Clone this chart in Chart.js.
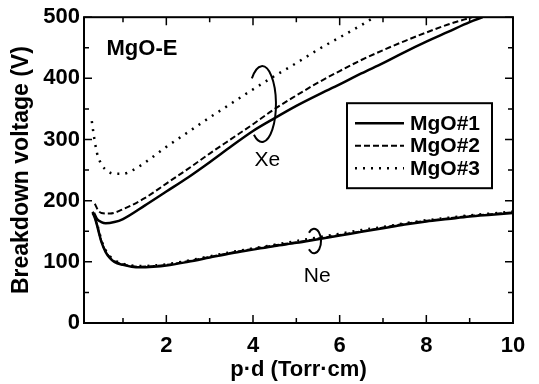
<!DOCTYPE html>
<html>
<head>
<meta charset="utf-8">
<script src="https://cdn.jsdelivr.net/npm/chart.js@4.4.0/dist/chart.umd.min.js"></script>
<style>
  body { margin: 0; background: #fff; }
  canvas { display: block; }
</style>
</head>
<body>
<canvas id="chart" width="539" height="384"></canvas>
<script>
// Xe curves (one per MgO sample)
const xeSolidX = [0.33, 0.4, 0.5, 0.6, 0.8, 1, 1.5, 2, 2.5, 3, 3.5, 4, 4.5, 5, 5.5, 6, 6.5, 7, 7.5, 8, 8.5, 9, 9.3];
const xeSolidY = [180, 170, 165, 163, 165, 170, 192, 215, 238, 263, 289, 314, 335, 355, 373, 390, 408, 425, 443, 460, 476, 492, 500];
const xeDashX = [0.35, 0.42, 0.5, 0.7, 1, 1.5, 2, 2.5, 3, 3.5, 4, 4.5, 5, 5.5, 6, 6.5, 7, 7.5, 8, 8.5, 9.05];
const xeDashY = [195, 185, 180, 179, 186, 204, 228, 252, 277, 301, 325, 350, 372, 393, 412, 430, 446, 461, 475, 488, 500];
const xeDotX = [0.28, 0.33, 0.4, 0.5, 0.65, 0.8, 1, 1.2, 1.5, 2, 2.5, 3, 3.5, 4, 4.5, 5, 5.5, 6, 6.5, 6.8];
const xeDotY = [330, 305, 278, 260, 248, 244, 244, 249, 262, 288, 312, 336, 359, 382, 404, 425, 447, 467, 487, 500];

// Ne curves share one x grid
const neX = [0.3, 0.35, 0.4, 0.45, 0.5, 0.6, 0.7, 0.8, 1, 1.2, 1.4, 1.7, 2, 2.5, 3, 3.5, 4, 4.5, 5, 5.5, 6, 6.5, 7, 7.5, 8, 8.5, 9, 9.5, 10];
const neSolidY = [180, 172, 160, 146, 133, 116, 106, 100, 95, 92, 91, 92, 94, 100, 107, 114, 120, 126, 131, 137, 143, 149, 155, 161, 166, 170, 174, 177, 180];
const neDashY = [181, 173, 161, 147, 134, 117, 107, 101, 96, 93, 92, 93, 95, 101, 108, 115, 121, 127, 132, 138, 144, 150, 156, 162, 167, 171, 175, 178, 181];
const neDotY = [182, 174, 163, 149, 136, 119, 109, 103, 97, 94, 93, 94, 96, 102, 109, 116, 122, 128, 134, 140, 146, 152, 157, 163, 168, 172, 176, 179, 182];

const seriesLabels = ['MgO#1', 'MgO#2', 'MgO#3'];
const xTicks = [2, 4, 6, 8, 10];
const xMinorTicks = [1, 3, 5, 7, 9];
const yTicks = [0, 100, 200, 300, 400, 500];
const yMinorTicks = [50, 150, 250, 350, 450];

const styles = [
    { dash: [], width: 2.5 },
    { dash: [6, 3], width: 2 },
    { dash: [2, 6], width: 2.5 }
];

function pts(xs, ys) {
    return xs.map((x, i) => ({ x: x, y: ys[i] }));
}

function line(label, data, s) {
    return {
        label: label,
        data: data,
        borderColor: '#000',
        borderWidth: styles[s].width,
        borderDash: styles[s].dash,
        pointRadius: 0,
        cubicInterpolationMode: 'monotone',
        fill: false
    };
}

const FONT = 'Liberation Sans, Arial, sans-serif';

// tick marks, frame, notes and legend, all placed via the chart scales
const decor = {
    id: 'decor',
    afterDatasetsDraw(chart) {
        const ctx = chart.ctx;
        const a = chart.chartArea;
        const xs = chart.scales.x, ys = chart.scales.y;
        ctx.save();
        ctx.strokeStyle = '#000';
        ctx.lineWidth = 2;
        ctx.setLineDash([]);
        ctx.strokeRect(a.left, a.top, a.right - a.left, a.bottom - a.top);

        ctx.lineWidth = 1.5;
        function vtick(v, len) {
            const px = xs.getPixelForValue(v);
            ctx.beginPath();
            ctx.moveTo(px, a.bottom); ctx.lineTo(px, a.bottom - len);
            ctx.moveTo(px, a.top); ctx.lineTo(px, a.top + len);
            ctx.stroke();
        }
        function htick(v, len) {
            const py = ys.getPixelForValue(v);
            ctx.beginPath();
            ctx.moveTo(a.left, py); ctx.lineTo(a.left + len, py);
            ctx.moveTo(a.right, py); ctx.lineTo(a.right - len, py);
            ctx.stroke();
        }
        xTicks.forEach(v => vtick(v, 8));
        xMinorTicks.forEach(v => vtick(v, 5));
        yTicks.forEach(v => htick(v, 8));
        yMinorTicks.forEach(v => htick(v, 5));

        // text notes
        ctx.fillStyle = '#000';
        ctx.font = 'bold 22px ' + FONT;
        ctx.textBaseline = 'middle';
        ctx.textAlign = 'left';
        ctx.fillText('MgO-E', xs.getPixelForValue(0.62), ys.getPixelForValue(448));
        ctx.textAlign = 'center';
        ctx.font = '21px ' + FONT;
        ctx.fillText('Xe', xs.getPixelForValue(4.33), ys.getPixelForValue(266));
        ctx.fillText('Ne', xs.getPixelForValue(5.48), ys.getPixelForValue(77));

        // loops marking the gas groups
        ctx.lineWidth = 2;
        function loop(cx, cy, rxv, ryv, a0, a1) {
            const px = xs.getPixelForValue(cx), py = ys.getPixelForValue(cy);
            const rx = Math.abs(xs.getPixelForValue(cx + rxv) - px);
            const ry = Math.abs(ys.getPixelForValue(cy + ryv) - py);
            ctx.beginPath();
            ctx.ellipse(px, py, rx, ry, 0, a0, a1);
            ctx.stroke();
        }
        loop(4.21, 358, 0.32, 62, -2.4, 2.2);
        loop(5.41, 134, 0.16, 20, -2.4, 2.4);

        // legend box
        const lx = a.right - 166, ly = a.top + 86, lw = 145, lh = 85;
        ctx.fillStyle = '#fff';
        ctx.fillRect(lx, ly, lw, lh);
        ctx.lineWidth = 2;
        ctx.strokeRect(lx, ly, lw, lh);
        ctx.font = 'bold 21px ' + FONT;
        ctx.textAlign = 'left';
        seriesLabels.forEach((lab, i) => {
            const y = ly + 20 + i * 22.5;
            ctx.lineWidth = styles[i].width;
            ctx.setLineDash(styles[i].dash);
            ctx.beginPath();
            ctx.moveTo(lx + 8, y); ctx.lineTo(lx + 57, y);
            ctx.stroke();
            ctx.setLineDash([]);
            ctx.fillStyle = '#000';
            ctx.fillText(lab, lx + 63, y + 1);
        });
        ctx.restore();
    }
};

const chart = new Chart(document.getElementById('chart').getContext('2d'), {
    type: 'line',
    data: {
        datasets: [
            line(seriesLabels[0], pts(xeSolidX, xeSolidY), 0),
            line(seriesLabels[1], pts(xeDashX, xeDashY), 1),
            line(seriesLabels[2], pts(xeDotX, xeDotY), 2),
            line(seriesLabels[0], pts(neX, neSolidY), 0),
            line(seriesLabels[1], pts(neX, neDashY), 1),
            line(seriesLabels[2], pts(neX, neDotY), 2)
        ]
    },
    options: {
        responsive: false,
        animation: false,
        layout: { padding: { top: 16, right: 26, left: 0, bottom: 0 } },
        plugins: {
            legend: { display: false },
            tooltip: { enabled: false }
        },
        scales: {
            x: {
                type: 'linear',
                min: 0.1,
                max: 10,
                afterBuildTicks: s => { s.ticks = xTicks.map(v => ({ value: v })); },
                afterFit: s => { s.height = 61; },
                grid: { display: false, drawTicks: false },
                border: { display: false },
                ticks: {
                    color: '#000',
                    padding: 10,
                    maxRotation: 0,
                    font: { family: FONT, size: 22, weight: 'bold' }
                },
                title: {
                    display: true,
                    text: 'p·d (Torr·cm)',
                    color: '#000',
                    padding: { top: 0, bottom: 1 },
                    font: { family: FONT, size: 22, weight: 'bold' }
                }
            },
            y: {
                min: 0,
                max: 500,
                afterBuildTicks: s => { s.ticks = yTicks.map(v => ({ value: v })); },
                afterFit: s => { s.width = 84; },
                grid: { display: false, drawTicks: false },
                border: { display: false },
                ticks: {
                    color: '#000',
                    padding: 4,
                    font: { family: FONT, size: 22, weight: 'bold' }
                },
                title: {
                    display: true,
                    text: 'Breakdown voltage (V)',
                    color: '#000',
                    padding: { top: 8, bottom: 0 },
                    font: { family: FONT, size: 23, weight: 'bold' }
                }
            }
        }
    },
    plugins: [decor]
});
</script>
</body>
</html>
